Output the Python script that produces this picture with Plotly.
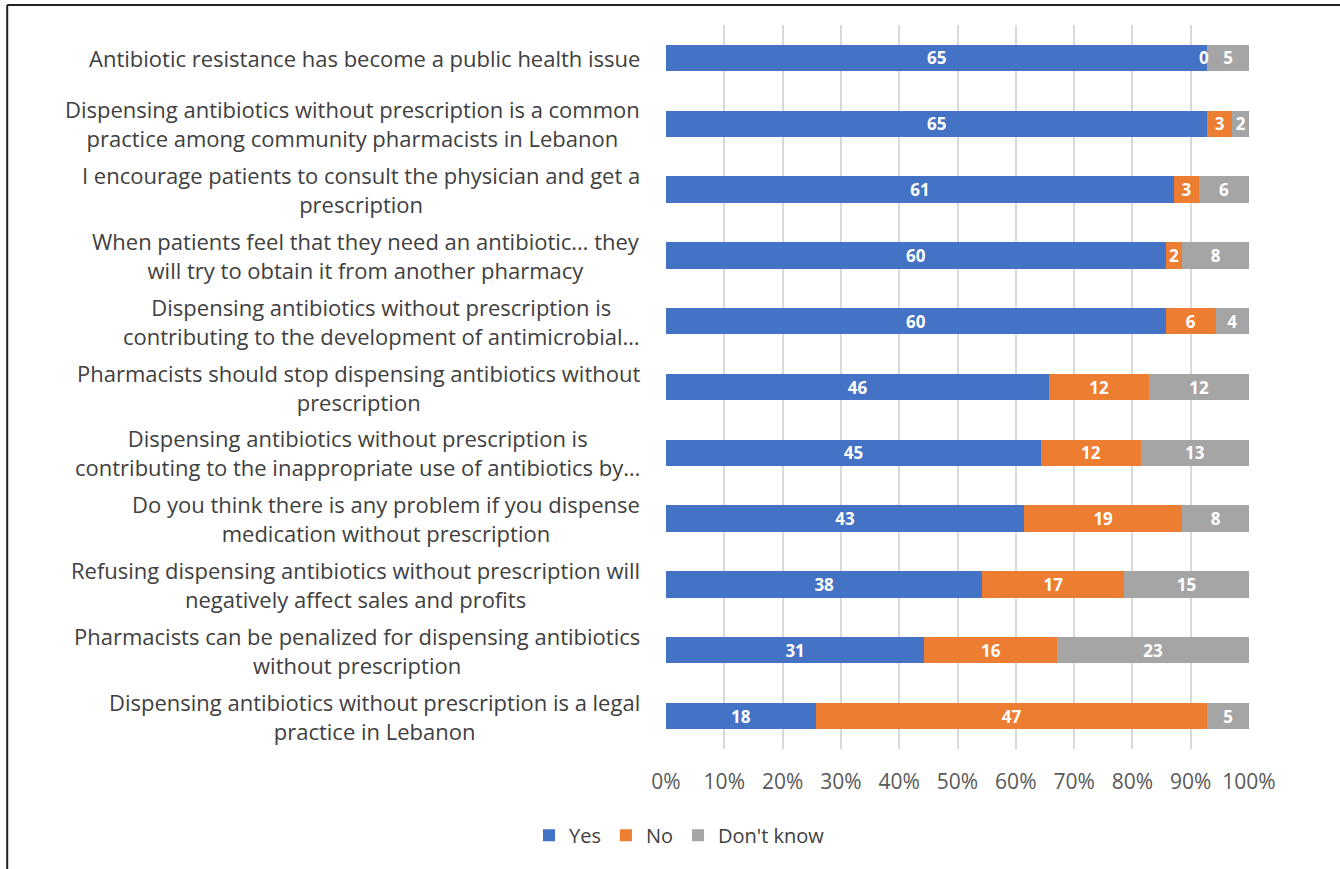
import plotly.graph_objects as go

labels = [
    "Antibiotic resistance has become a public health issue",
    "Dispensing antibiotics without prescription is a common<br>practice among community pharmacists in Lebanon",
    "I encourage patients to consult the physician and get a<br>prescription",
    "When patients feel that they need an antibiotic… they<br>will try to obtain it from another pharmacy",
    "Dispensing antibiotics without prescription is<br>contributing to the development of antimicrobial…",
    "Pharmacists should stop dispensing antibiotics without<br>prescription",
    "Dispensing antibiotics without prescription is<br>contributing to the inappropriate use of antibiotics by…",
    "Do you think there is any problem if you dispense<br>medication without prescription",
    "Refusing dispensing antibiotics without prescription will<br>negatively affect sales and profits",
    "Pharmacists can be penalized for dispensing antibiotics<br>without prescription",
    "Dispensing antibiotics without prescription is a legal<br>practice in Lebanon",
]
yes = [65, 65, 61, 60, 60, 46, 45, 43, 38, 31, 18]
no = [0, 3, 3, 2, 6, 12, 12, 19, 17, 16, 47]
dont_know = [5, 2, 6, 8, 4, 12, 13, 8, 15, 23, 5]
series_names = ["Yes", "No", "Don't know"]
colors = ["#4472C4", "#ED7D31", "#A5A5A5"]
tick_vals = [0, 10, 20, 30, 40, 50, 60, 70, 80, 90, 100]
tick_text = ["0%", "10%", "20%", "30%", "40%", "50%", "60%", "70%", "80%", "90%", "100%"]

bar_font = dict(family="Open Sans", size=17, color="white", weight="bold")

fig = go.Figure()
for name, vals, col in zip(series_names, [yes, no, dont_know], colors):
    fig.add_trace(go.Bar(
        y=labels, x=vals, name=name, orientation="h",
        marker=dict(color=col, line=dict(width=0)),
        text=[str(v) if v != 0 else "" for v in vals],
        textposition="inside",
        textangle=0,
        insidetextanchor="middle",
        constraintext="none",
        textfont=bar_font,
        insidetextfont=bar_font,
    ))

annotations = []
for lab in labels:
    annotations.append(dict(
        x=0, xref="paper", y=lab, yref="y", text=lab,
        xanchor="right", yanchor="middle", align="center",
        xshift=-24, showarrow=False,
        font=dict(family="Open Sans", size=22, color="#404040"),
    ))

# labels for zero-width segments (hidden by plotly inside text)
for lab, y_, n_, d_ in zip(labels, yes, no, dont_know):
    if n_ == 0:
        total = y_ + n_ + d_
        annotations.append(dict(
            x=(y_ + n_ / 2) / total * 100, xref="x", y=lab, yref="y",
            text=str(n_), showarrow=False, xanchor="center", yanchor="middle",
            xshift=-3, font=bar_font,
        ))

fig.update_layout(
    width=1340, height=869,
    barmode="stack", barnorm="percent", bargap=0.6,
    paper_bgcolor="white", plot_bgcolor="white",
    margin=dict(l=666, r=91, t=25, b=120, autoexpand=False),
    xaxis=dict(
        range=[0, 100], tickvals=tick_vals, ticktext=tick_text,
        showgrid=True, gridcolor="#D9D9D9", gridwidth=2,
        zeroline=False, showline=False, ticks="",
        ticklabelstandoff=18,
        tickfont=dict(family="Open Sans", size=21, color="#595959"),
        fixedrange=True,
    ),
    yaxis=dict(
        autorange="reversed", showticklabels=False, showgrid=False,
        zeroline=False, showline=False, ticks="",
    ),
    showlegend=True,
    legend=dict(
        orientation="h", x=-0.235, xanchor="left", y=-0.119, yanchor="middle",
        font=dict(family="Open Sans", size=20, color="#404040"),
        traceorder="normal", itemwidth=30,
    ),
    annotations=annotations,
    shapes=[
        dict(type="line", xref="paper", yref="paper", x0=-1.13, x1=1.2, y0=1.0276, y1=1.0276,
             line=dict(color="#222222", width=2)),
        dict(type="line", xref="paper", yref="paper", x0=-1.13, x1=-1.13, y0=1.0276, y1=-0.2,
             line=dict(color="#222222", width=2)),
    ],
)

fig.write_html("out.html")
